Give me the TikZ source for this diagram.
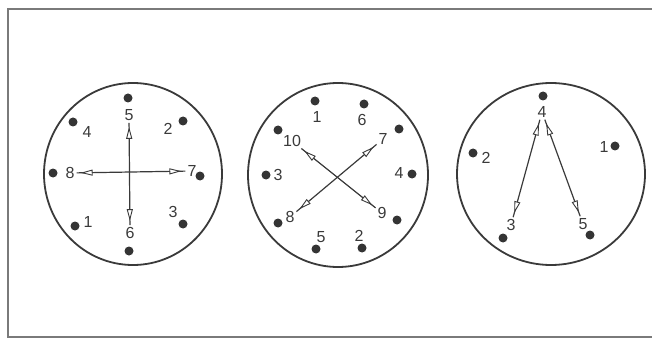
\documentclass[tikz,border=0pt]{standalone}
\usepackage{fontspec}
\setmainfont{Liberation Sans}
\usetikzlibrary{arrows.meta, decorations.markings}

\definecolor{ink}{HTML}{3A3A3A}
\definecolor{frameink}{HTML}{7A7A7A}

\tikzset{
  rim/.style={draw=ink, line width=1.8pt},
  contact/.style={circle, fill=ink!90!black, minimum size=9pt, inner sep=0pt},
  pinlabel/.style={text=ink, inner sep=1pt, font=\fontsize{16}{18}\selectfont},
  openhead/.tip={Triangle[fill=white, length=12pt, width=6pt, line width=0.9pt]},
  link/.style={draw=ink, line width=1.2pt, shorten <=1pt, shorten >=1pt,
    postaction={decorate, decoration={markings,
      mark=at position 5pt with {\arrowreversed{openhead}},
      mark=at position -5pt with {\arrow{openhead}}}}}
}

\begin{document}
\begin{tikzpicture}[x=1pt, y=-1pt]
  \useasboundingbox (0,0) rectangle (652,339);
  % frame, open to the right
  \draw[frameink, line width=1.6pt] (652,9) -- (8,9) -- (8,337) -- (652,337);

  % left dial
  \draw[rim] (133,174) ellipse [x radius=89pt, y radius=91pt];
  \node[contact] (a5) at (128,98) {};
  \node[contact] (a2) at (183,121) {};
  \node[contact] (a4) at (73,122) {};
  \node[contact] (a8) at (53,173) {};
  \node[contact] (a7) at (200,176) {};
  \node[contact] (a1) at (75,226) {};
  \node[contact] (a3) at (183,224) {};
  \node[contact] (a6) at (129,251) {};
  \node[pinlabel] (ta5) at (129,115) {5};
  \node[pinlabel] (ta2) at (168,129) {2};
  \node[pinlabel] (ta4) at (87,132) {4};
  \node[pinlabel] (ta8) at (70,173) {8};
  \node[pinlabel] (ta7) at (192,171) {7};
  \node[pinlabel] (ta1) at (88,222) {1};
  \node[pinlabel] (ta3) at (173,212) {3};
  \node[pinlabel] (ta6) at (130,233) {6};
  \draw[link] (ta5) -- (ta6);
  \draw[link] (ta8) -- (ta7);

  % middle dial
  \draw[rim] (338,175) ellipse [x radius=90pt, y radius=92pt];
  \node[contact] (b1) at (315,101) {};
  \node[contact] (b6) at (364,104) {};
  \node[contact] (b10) at (278,130) {};
  \node[contact] (b7) at (399,129) {};
  \node[contact] (b3) at (266,175) {};
  \node[contact] (b4) at (412,174) {};
  \node[contact] (b8) at (278,223) {};
  \node[contact] (b9) at (397,220) {};
  \node[contact] (b5) at (316,249) {};
  \node[contact] (b2) at (362,248) {};
  \node[pinlabel] (tb1) at (317,117) {1};
  \node[pinlabel] (tb6) at (362,120) {6};
  \node[pinlabel] (tb10) at (292,141) {10};
  \node[pinlabel] (tb7) at (383,139) {7};
  \node[pinlabel] (tb3) at (278,175) {3};
  \node[pinlabel] (tb4) at (399,173) {4};
  \node[pinlabel] (tb8) at (290,217) {8};
  \node[pinlabel] (tb9) at (382,213) {9};
  \node[pinlabel] (tb5) at (321,237) {5};
  \node[pinlabel] (tb2) at (359,236) {2};
  \draw[link] (tb10) -- (tb9);
  \draw[link] (tb8) -- (tb7);

  % right dial
  \draw[rim] (551,174) ellipse [x radius=94pt, y radius=91pt];
  \node[contact] (c4) at (543,96) {};
  \node[contact] (c1) at (615,146) {};
  \node[contact] (c2) at (473,153) {};
  \node[contact] (c3) at (503,238) {};
  \node[contact] (c5) at (590,235) {};
  \node[pinlabel] (tc4) at (542,112) {4};
  \node[pinlabel] (tc1) at (604,147) {1};
  \node[pinlabel] (tc2) at (486,158) {2};
  \node[pinlabel] (tc3) at (511,225) {3};
  \node[pinlabel] (tc5) at (583,224) {5};
  \draw[link] (tc4) -- (tc3);
  \draw[link] (tc4) -- (tc5);
\end{tikzpicture}
\end{document}
